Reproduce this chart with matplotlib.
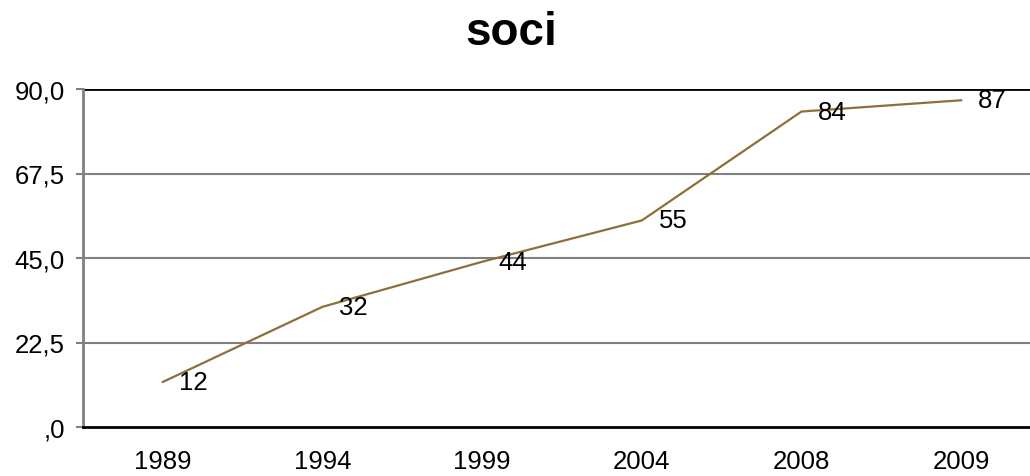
import matplotlib.pyplot as plt

years = ["1989", "1994", "1999", "2004", "2008", "2009"]
soci = [12, 32, 44, 55, 84, 87]
yticks = [0, 22.5, 45, 67.5, 90]
ytick_labels = [",0", "22,5", "45,0", "67,5", "90,0"]

plt.rcParams['font.family'] = ['Liberation Sans', 'DejaVu Sans']

fig = plt.figure(figsize=(10.30, 4.77), dpi=100)
# plot area runs a little past the right edge of the figure
ax = fig.add_axes([83 / 1030, 1 - 428 / 477, (1041 - 83) / 1030, (428 - 90) / 477])

x = [i + 0.5 for i in range(len(years))]
ax.plot(x, soci, color='#8E6F3A', linewidth=1.6, zorder=3, clip_on=False)
for xi, v in zip(x, soci):
    ax.annotate(str(v), (xi, v), xytext=(12, 0), textcoords='offset points',
                ha='left', va='center', fontsize=18.5, color='black', zorder=4)

ax.set_xlim(0, len(years))
ax.set_ylim(0, 90)
ax.set_xticks(x)
ax.set_xticklabels(years, fontsize=18.5)
ax.set_yticks(yticks)
ax.set_yticklabels(ytick_labels, fontsize=18.5)
ax.tick_params(axis='x', length=0, pad=16)
ax.tick_params(axis='y', length=5, width=1.5, color='#808080', pad=8)

for v in yticks[1:-1]:
    ax.axhline(v, color='#808080', linewidth=1.5, zorder=1)
ax.axhline(90, color='black', linewidth=2, zorder=2)

for s in ['right', 'top']:
    ax.spines[s].set_visible(False)
ax.spines['left'].set_color('#808080')
ax.spines['left'].set_linewidth(2)
ax.spines['bottom'].set_color('black')
ax.spines['bottom'].set_linewidth(2)
ax.spines['bottom'].set_zorder(5)

fig.text(511 / 1030, 1 - 33 / 477, "soci", ha='center', va='center',
         fontsize=33, fontweight='bold')

fig.savefig("out.png", dpi=100)
